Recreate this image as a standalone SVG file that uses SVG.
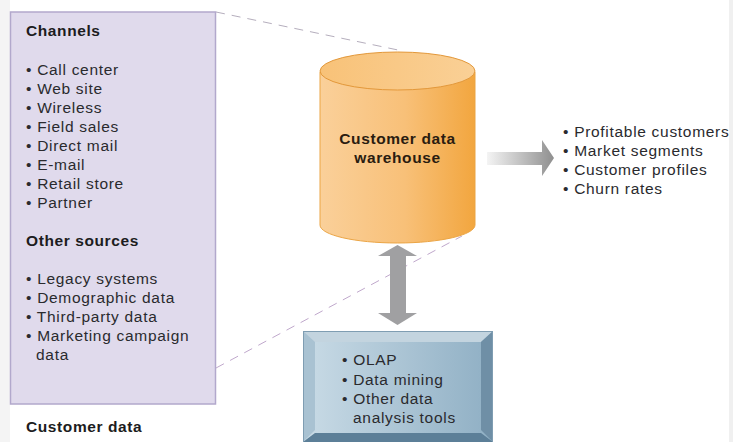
<svg xmlns="http://www.w3.org/2000/svg" width="733" height="442" viewBox="0 0 733 442">
<style>
text{font-family:"Liberation Sans",Arial,sans-serif;font-size:15.500px;letter-spacing:.7px;fill:#2a2a2e}
.b{font-weight:bold;letter-spacing:.6px;fill:#1c1c20}
.d{fill:none;stroke-width:1;stroke-dasharray:9 7}
</style>
<defs>
<linearGradient id="cyl" x1="0" x2="1" y1="0" y2="0"><stop offset="0" stop-color="#fad09a"/><stop offset="0.55" stop-color="#f8c078"/><stop offset="1" stop-color="#f2a63f"/></linearGradient>
<linearGradient id="cyltop" x1="0" x2="1" y1="0" y2="0"><stop offset="0" stop-color="#f8c278"/><stop offset="1" stop-color="#fad096"/></linearGradient>
<linearGradient id="fade" x1="0" x2="1" y1="0" y2="0"><stop offset="0" stop-color="#f4f4f4"/><stop offset="1" stop-color="#8f8f8f"/></linearGradient>
<linearGradient id="face" x1="0" x2="1" y1="0" y2="0"><stop offset="0" stop-color="#c9dbe6"/><stop offset="1" stop-color="#8fafc4"/></linearGradient>
</defs>
<rect width="733" height="442" fill="#fff"/>
<rect x="0" y="0" width="10" height="442" fill="#f4f4f4"/>
<rect x="729" y="0" width="4" height="442" fill="#f0f0f0"/>
<g id="connectors">
<path class="d" d="M216 12L398 50" stroke="#b5aebd"/>
<path class="d" d="M216 368L462 236" stroke="#c0a8cc"/>
<path id="arrow-out" d="M487 152H542V140L554 158L542 176V165H487Z" fill="url(#fade)"/>
</g>
<g id="sources">
<rect x="10.500" y="12" width="205" height="392" fill="#e0daec" stroke="#b2a8cc" stroke-width="1.500"/>
<text class="b" x="26" y="36">Channels</text>
<text x="26" y="75">• Call center</text>
<text x="26" y="94">• Web site</text>
<text x="26" y="113">• Wireless</text>
<text x="26" y="132">• Field sales</text>
<text x="26" y="151">• Direct mail</text>
<text x="26" y="170">• E-mail</text>
<text x="26" y="189">• Retail store</text>
<text x="26" y="208">• Partner</text>
<text class="b" x="26" y="246">Other sources</text>
<text x="26" y="284">• Legacy systems</text>
<text x="26" y="303">• Demographic data</text>
<text x="26" y="322">• Third-party data</text>
<text x="26" y="341">• Marketing campaign</text>
<text x="36" y="360">data</text>
</g>
<text id="caption" class="b" x="26" y="432">Customer data</text>
<g id="warehouse">
<path d="M320 72V225C320 235 355 243 397.500 243C440 243 475 235 475 225V72Z" fill="url(#cyl)" stroke="#eba545"/>
<ellipse cx="397.500" cy="71" rx="77.500" ry="19" fill="url(#cyltop)" stroke="#e3983a"/>
<text class="b" x="397.500" y="144" text-anchor="middle" style="fill:#2a1c10">Customer data</text>
<text class="b" x="397.500" y="163" text-anchor="middle" style="fill:#2a1c10">warehouse</text>
</g>
<g id="arrow-both"><path d="M397.500 245L417 256H406V313H417L397.500 325L378 313H390V256H378Z" fill="#a0a0a2"/></g>
<g id="tools">
<rect x="303" y="331" width="190" height="111" fill="url(#face)"/>
<path d="M303 331H493L481 342H315Z" fill="#c3d4df"/>
<path d="M303 331L315 342V430L303 442Z" fill="#a9c2d2"/>
<path d="M493 331L481 342V430L493 442Z" fill="#6f8fa6"/>
<path d="M303 442L315 433H481L493 442Z" fill="#5c7f98"/>
<rect x="303.500" y="331.500" width="189" height="111" fill="none" stroke="#7f9db2"/>
<text x="342" y="365">• OLAP</text>
<text x="342" y="385">• Data mining</text>
<text x="342" y="404">• Other data</text>
<text x="353" y="423">analysis tools</text>
</g>
<g id="outputs">
<text x="563" y="137">• Profitable customers</text>
<text x="563" y="156">• Market segments</text>
<text x="563" y="175">• Customer profiles</text>
<text x="563" y="194">• Churn rates</text>
</g>
</svg>
